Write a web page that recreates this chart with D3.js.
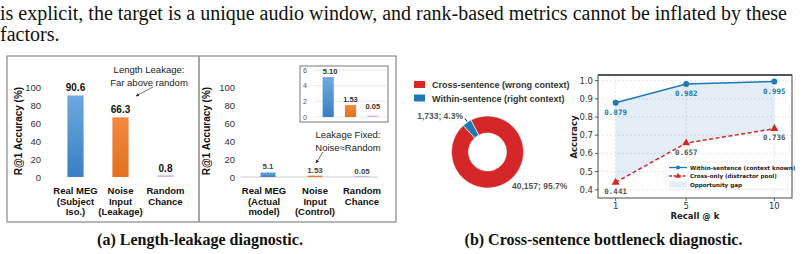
<!DOCTYPE html>
<html>
<head>
<meta charset="utf-8">
<script src="https://cdn.jsdelivr.net/npm/d3@7"></script>
<style>
    body { margin: 0; background: #fff; }
</style>
</head>
<body>
<div id="chart-area"></div>
<script>
// ---- data ----
var bodyLines = [
    "is explicit, the target is a unique audio window, and rank-based metrics cannot be inflated by these",
    "factors."
];
var leakCats = [["Real MEG", "(Subject", "Iso.)"], ["Noise", "Input", "(Leakage)"], ["Random", "Chance"]];
var leakVals = [90.6, 66.3, 0.8];
var leakLabels = ["90.6", "66.3", "0.8"];
var fixedCats = [["Real MEG", "(Actual", "model)"], ["Noise", "Input", "(Control)"], ["Random", "Chance"]];
var fixedVals = [5.1, 1.53, 0.05];
var fixedLabels = ["5.1", "1.53", "0.05"];
var insetLabels = ["5.10", "1.53", "0.05"];
var pctTicks = [0, 20, 40, 60, 80, 100];
var insetTicks = [0, 2, 4, 6];
var pieCats = ["Cross-sentence (wrong context)", "Within-sentence (right context)"];
var pieCounts = [40157, 1733];
var pieLabels = ["40,157; 95.7%", "1,733; 4.3%"];
var recallK = [1, 5, 10];
var withinAcc = [0.879, 0.982, 0.995];
var crossAcc = [0.441, 0.657, 0.736];
var accTicks = [0.4, 0.5, 0.6, 0.7, 0.8, 0.9, 1.0];
var lineNames = ["Within-sentence (context known)", "Cross-only (distractor pool)", "Opportunity gap"];

var barColors = ["url(#grad-blue)", "url(#grad-orange)", "#cdb8e6"];
var sans = "Liberation Sans, Arial, sans-serif";
var dv = "DejaVu Sans, sans-serif";

var svg = d3.select("#chart-area")
    .append("svg")
    .attr("width", 804)
    .attr("height", 254)
    .style("display", "block")
    .style("background-color", "#fff");

var defs = svg.append("defs");
function grad(id, c1, c2) {
    var gr = defs.append("linearGradient").attr("id", id)
        .attr("x1", "0%").attr("y1", "0%").attr("x2", "0%").attr("y2", "100%");
    gr.append("stop").attr("offset", "0%").attr("stop-color", c1);
    gr.append("stop").attr("offset", "100%").attr("stop-color", c2);
}
grad("grad-blue", "#6ea9e0", "#3a7fc3");
grad("grad-orange", "#f28a3e", "#e2701f");
defs.append("marker")
    .attr("id", "arrow")
    .attr("viewBox", "0 0 10 10")
    .attr("refX", 9).attr("refY", 5)
    .attr("markerWidth", 5).attr("markerHeight", 5)
    .attr("orient", "auto")
    .append("path")
    .attr("d", "M0,0 L10,5 L0,10 z")
    .attr("fill", "#333");

// ---- body text ----
bodyLines.forEach(function (t, i) {
    svg.append("text")
        .attr("x", 0)
        .attr("y", 20 + i * 21)
        .attr("font-family", "Liberation Serif, Times New Roman, serif")
        .attr("font-size", "20px")
        .attr("fill", "#111")
        .text(t);
});

// ---- panel (a) frame ----
svg.append("rect")
    .attr("x", 7).attr("y", 56)
    .attr("width", 389).attr("height", 166)
    .attr("fill", "none")
    .attr("stroke", "#888")
    .attr("stroke-width", 1.2);
svg.append("line")
    .attr("x1", 199).attr("x2", 199).attr("y1", 56).attr("y2", 222)
    .attr("stroke", "#888").attr("stroke-width", 1.5);

function barPanel(cfg) {
    var x = d3.scaleBand()
        .domain(d3.range(cfg.vals.length))
        .range(cfg.xr)
        .paddingInner(cfg.pi)
        .paddingOuter(cfg.pi / 2);
    var y = d3.scaleLinear().domain([0, 100]).range([177, 87]);

    svg.selectAll(null)
        .data(pctTicks)
        .enter()
        .append("text")
        .attr("x", cfg.tickX)
        .attr("y", d => y(d) + 3.5)
        .attr("text-anchor", "end")
        .attr("font-family", sans)
        .attr("font-size", "9.5px")
        .attr("fill", "#333")
        .text(d => d);

    if (cfg.baseline) {
        svg.append("line")
            .attr("x1", x.range()[0] - 4).attr("x2", x.range()[1] - 8)
            .attr("y1", y(0)).attr("y2", y(0))
            .attr("stroke", "#ccc").attr("stroke-width", 1);
    }

    svg.selectAll(null)
        .data(cfg.vals)
        .enter()
        .append("rect")
        .attr("x", (d, i) => x(i))
        .attr("y", d => y(d) - (d < 1 ? 1 : 0))
        .attr("width", x.bandwidth())
        .attr("height", d => y(0) - y(d) + (d < 1 ? 1 : 0))
        .attr("fill", (d, i) => barColors[i]);

    svg.selectAll(null)
        .data(cfg.vals)
        .enter()
        .append("text")
        .attr("x", (d, i) => x(i) + x.bandwidth() / 2)
        .attr("y", d => y(d) - cfg.labelOff)
        .attr("text-anchor", "middle")
        .attr("font-family", sans)
        .attr("font-size", cfg.labelSize)
        .attr("font-weight", cfg.labelWeight)
        .attr("fill", cfg.labelColor)
        .text((d, i) => cfg.labels[i]);

    cfg.cats.forEach(function (lines, i) {
        var t = svg.append("text")
            .attr("text-anchor", "middle")
            .attr("font-family", sans)
            .attr("font-size", "9.5px")
            .attr("font-weight", "bold")
            .attr("fill", "#111");
        lines.forEach(function (s, j) {
            t.append("tspan")
                .attr("x", x(i) + x.bandwidth() / 2 + (cfg.catShift[i] || 0))
                .attr("y", 194 + j * 10.5)
                .text(s);
        });
    });

    svg.append("text")
        .attr("transform", `translate(${cfg.titleX}, 131) rotate(-90)`)
        .attr("text-anchor", "middle")
        .attr("font-family", sans)
        .attr("font-size", "10px")
        .attr("font-weight", "bold")
        .attr("fill", "#111")
        .text("R@1 Accuracy (%)");
}

barPanel({
    vals: leakVals, labels: leakLabels, cats: leakCats,
    xr: [53, 188], pi: 0.64, tickX: 41, titleX: 22,
    labelOff: 4, labelSize: "10px", labelWeight: "bold", labelColor: "#111",
    catShift: [0, 0, 0], baseline: false
});
barPanel({
    vals: fixedVals, labels: fixedLabels, cats: fixedCats,
    xr: [244.5, 385.5], pi: 0.68, tickX: 235, titleX: 210,
    labelOff: 3, labelSize: "8px", labelWeight: "600", labelColor: "#444",
    catShift: [-4, 0, 0], baseline: true
});

// annotations
function note(lines, cx, y0, from, to) {
    var t = svg.append("text")
        .attr("text-anchor", "middle")
        .attr("font-family", sans)
        .attr("font-size", "9.5px")
        .attr("fill", "#222");
    lines.forEach(function (s, j) {
        t.append("tspan").attr("x", cx).attr("y", y0 + j * 12.5).text(s);
    });
    svg.append("line")
        .attr("x1", from[0]).attr("y1", from[1])
        .attr("x2", to[0]).attr("y2", to[1])
        .attr("stroke", "#333").attr("stroke-width", 0.7)
        .attr("marker-end", "url(#arrow)");
}
note(["Length Leakage:", "Far above random"], 149, 73, [153, 87], [136, 96]);
note(["Leakage Fixed:", "Noise\u2248Random"], 348, 138, [323, 152], [316, 163]);

// inset
svg.append("rect")
    .attr("x", 300).attr("y", 66)
    .attr("width", 88).attr("height", 56)
    .attr("fill", "#fff")
    .attr("stroke", "#777").attr("stroke-width", 1);
var ix = d3.scaleBand().domain(d3.range(3)).range([317, 384]).paddingInner(0.5).paddingOuter(0.25);
var iy = d3.scaleLinear().domain([0, 6]).range([117, 70]);
svg.selectAll(null)
    .data(insetTicks)
    .enter()
    .append("line")
    .attr("x1", 314).attr("x2", 386)
    .attr("y1", d => iy(d)).attr("y2", d => iy(d))
    .attr("stroke", "#e2e2e2").attr("stroke-width", 0.8);
svg.selectAll(null)
    .data(insetTicks)
    .enter()
    .append("text")
    .attr("x", 307)
    .attr("y", d => iy(d) + 2.5)
    .attr("text-anchor", "end")
    .attr("font-family", sans)
    .attr("font-size", "7px")
    .attr("fill", "#555")
    .text(d => d);
svg.selectAll(null)
    .data(fixedVals)
    .enter()
    .append("rect")
    .attr("x", (d, i) => ix(i))
    .attr("y", d => iy(d) - (d < 1 ? 1 : 0))
    .attr("width", ix.bandwidth())
    .attr("height", d => iy(0) - iy(d) + (d < 1 ? 1 : 0))
    .attr("fill", (d, i) => barColors[i]);
svg.selectAll(null)
    .data(fixedVals)
    .enter()
    .append("text")
    .attr("x", (d, i) => ix(i) + ix.bandwidth() / 2 + (i === 0 ? 2 : 0))
    .attr("y", d => Math.min(iy(d) - 3, 109))
    .attr("text-anchor", "middle")
    .attr("font-family", sans)
    .attr("font-size", "7.5px")
    .attr("font-weight", "bold")
    .attr("fill", "#333")
    .text((d, i) => insetLabels[i]);

// ---- panel (b) donut ----
var pieColors = ["#d62728", "#1f77b4"];
pieCats.forEach(function (c, i) {
    svg.append("rect")
        .attr("x", 414).attr("y", 81 + i * 13.5)
        .attr("width", 11).attr("height", 7)
        .attr("fill", pieColors[i]);
    svg.append("text")
        .attr("x", 432).attr("y", 88 + i * 13.5)
        .attr("font-family", sans)
        .attr("font-size", "9px")
        .attr("font-weight", "bold")
        .attr("fill", "#333")
        .text(c);
});
var pie = d3.pie().sort(null)
    .startAngle(-27.5 * Math.PI / 180)
    .endAngle(332.5 * Math.PI / 180);
var arc = d3.arc().innerRadius(19).outerRadius(36);
svg.append("g")
    .attr("transform", "translate(487.5, 152)")
    .selectAll("path")
    .data(pie(pieCounts))
    .enter()
    .append("path")
    .attr("d", arc)
    .attr("fill", (d, i) => pieColors[i])
    .attr("stroke", "#fff")
    .attr("stroke-width", 0.6);
svg.append("text")
    .attr("x", 463).attr("y", 119)
    .attr("text-anchor", "end")
    .attr("font-family", sans).attr("font-size", "8.5px").attr("font-weight", "bold")
    .attr("fill", "#555")
    .text(pieLabels[1]);
svg.append("line")
    .attr("x1", 465).attr("y1", 118.5).attr("x2", 467).attr("y2", 121.5)
    .attr("stroke", "#111").attr("stroke-width", 1);
svg.append("text")
    .attr("x", 512).attr("y", 189)
    .attr("font-family", sans).attr("font-size", "8.5px").attr("font-weight", "bold")
    .attr("fill", "#555")
    .text(pieLabels[0]);

// ---- panel (b) recall chart ----
var x = d3.scaleLinear().domain([0, 11]).range([598, 792]);
var y = d3.scaleLinear().domain([0.355, 1.031]).range([198, 75]);

var gg = svg.append("g");
gg.selectAll(null).data(recallK).enter().append("line")
    .attr("x1", d => x(d)).attr("x2", d => x(d)).attr("y1", 75).attr("y2", 198)
    .attr("stroke", "#ddd").attr("stroke-width", 0.7).attr("stroke-dasharray", "2,2");
gg.selectAll(null).data(accTicks).enter().append("line")
    .attr("x1", 598).attr("x2", 792).attr("y1", d => y(d)).attr("y2", d => y(d))
    .attr("stroke", "#ddd").attr("stroke-width", 0.7).attr("stroke-dasharray", "2,2");

var pts = recallK.map((k, i) => ({ k: k, w: withinAcc[i], c: crossAcc[i] }));
svg.append("path")
    .datum(pts)
    .attr("d", d3.area().x(d => x(d.k)).y0(d => y(d.c)).y1(d => y(d.w)))
    .attr("fill", "#1f77b4").attr("fill-opacity", 0.13);

svg.append("path")
    .datum(pts)
    .attr("d", d3.line().x(d => x(d.k)).y(d => y(d.w)))
    .attr("fill", "none").attr("stroke", "#1f77b4").attr("stroke-width", 1.5);
svg.append("path")
    .datum(pts)
    .attr("d", d3.line().x(d => x(d.k)).y(d => y(d.c)))
    .attr("fill", "none").attr("stroke", "#d62728").attr("stroke-width", 1.5)
    .attr("stroke-dasharray", "4,2.5");
svg.selectAll(null).data(pts).enter().append("circle")
    .attr("cx", d => x(d.k)).attr("cy", d => y(d.w)).attr("r", 3)
    .attr("fill", "#1f77b4");
svg.selectAll(null).data(pts).enter().append("path")
    .attr("transform", d => `translate(${x(d.k)}, ${y(d.c)})`)
    .attr("d", d3.symbol().type(d3.symbolTriangle).size(28))
    .attr("fill", "#d62728");

svg.selectAll(null).data(pts).enter().append("text")
    .attr("x", d => x(d.k)).attr("y", d => y(d.w) + 12)
    .attr("text-anchor", "middle")
    .attr("font-family", "DejaVu Sans Mono, monospace").attr("font-size", "7.5px").attr("font-weight", "bold")
    .attr("fill", "#1f77b4")
    .text(d => d3.format(".3f")(d.w));
svg.selectAll(null).data(pts).enter().append("text")
    .attr("x", d => x(d.k)).attr("y", d => y(d.c) + 11.5)
    .attr("text-anchor", "middle")
    .attr("font-family", "DejaVu Sans Mono, monospace").attr("font-size", "7.5px").attr("font-weight", "bold")
    .attr("fill", "#555")
    .text(d => d3.format(".3f")(d.c));

// frame + ticks
svg.append("rect")
    .attr("x", 598).attr("y", 75).attr("width", 194).attr("height", 123)
    .attr("fill", "none").attr("stroke", "#333").attr("stroke-width", 0.9);
svg.append("line")
    .attr("x1", 598).attr("x2", 792).attr("y1", 75).attr("y2", 75)
    .attr("stroke", "#555").attr("stroke-width", 2.2);
svg.selectAll(null).data(accTicks).enter().append("line")
    .attr("x1", 595).attr("x2", 598).attr("y1", d => y(d)).attr("y2", d => y(d))
    .attr("stroke", "#333").attr("stroke-width", 0.8);
svg.selectAll(null).data(accTicks).enter().append("text")
    .attr("x", 593).attr("y", d => y(d) + 3)
    .attr("text-anchor", "end")
    .attr("font-family", dv).attr("font-size", "8.5px").attr("fill", "#333")
    .text(d => d3.format(".1f")(d));
svg.selectAll(null).data(recallK).enter().append("line")
    .attr("x1", d => x(d)).attr("x2", d => x(d)).attr("y1", 198).attr("y2", 201)
    .attr("stroke", "#333").attr("stroke-width", 0.8);
svg.selectAll(null).data(recallK).enter().append("text")
    .attr("x", d => x(d)).attr("y", 209)
    .attr("text-anchor", "middle")
    .attr("font-family", dv).attr("font-size", "8.5px").attr("fill", "#333")
    .text(d => d);
svg.append("text")
    .attr("x", 695).attr("y", 219)
    .attr("text-anchor", "middle")
    .attr("font-family", dv).attr("font-size", "8.5px").attr("font-weight", "bold").attr("fill", "#222")
    .text("Recall @ k");
svg.append("text")
    .attr("transform", "translate(577, 137) rotate(-90)")
    .attr("text-anchor", "middle")
    .attr("font-family", dv).attr("font-size", "8.5px").attr("font-weight", "bold").attr("fill", "#222")
    .text("Accuracy");

// legend
svg.append("rect")
    .attr("x", 666).attr("y", 162).attr("width", 122).attr("height", 27).attr("rx", 2)
    .attr("fill", "#fff").attr("fill-opacity", 0.85)
    .attr("stroke", "#e4e4e4").attr("stroke-width", 0.6);
var ly = [167.5, 176, 184.5];
svg.append("line").attr("x1", 669).attr("x2", 687).attr("y1", ly[0]).attr("y2", ly[0])
    .attr("stroke", "#1f77b4").attr("stroke-width", 1.3);
svg.append("circle").attr("cx", 678).attr("cy", ly[0]).attr("r", 2).attr("fill", "#1f77b4");
svg.append("line").attr("x1", 669).attr("x2", 687).attr("y1", ly[1]).attr("y2", ly[1])
    .attr("stroke", "#d62728").attr("stroke-width", 1.3).attr("stroke-dasharray", "3,1.5");
svg.append("path").attr("transform", `translate(678, ${ly[1]})`)
    .attr("d", d3.symbol().type(d3.symbolTriangle).size(14)).attr("fill", "#d62728");
svg.append("rect").attr("x", 669).attr("y", ly[2] - 3).attr("width", 18).attr("height", 6)
    .attr("fill", "#1f77b4").attr("fill-opacity", 0.13);
lineNames.forEach(function (n, i) {
    svg.append("text")
        .attr("x", 690).attr("y", ly[i] + 2)
        .attr("font-family", dv).attr("font-size", "5.6px").attr("font-weight", "bold")
        .attr("fill", "#222")
        .text(n);
});

// ---- captions ----
[["(a) Length-leakage diagnostic.", 200], ["(b) Cross-sentence bottleneck diagnostic.", 603.5]].forEach(function (c) {
    svg.append("text")
        .attr("x", c[1]).attr("y", 245)
        .attr("text-anchor", "middle")
        .attr("font-family", "Liberation Serif, Times New Roman, serif")
        .attr("font-size", "16px")
        .attr("font-weight", "bold")
        .attr("fill", "#111")
        .text(c[0]);
});
</script>
</body>
</html>
